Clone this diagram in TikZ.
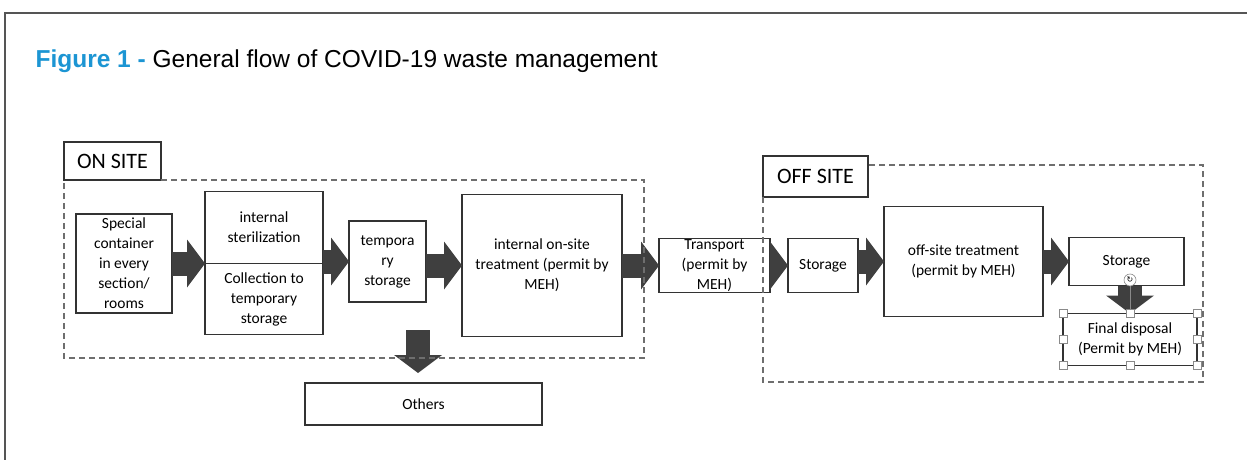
\documentclass[tikz,border=0pt]{standalone}
\usepackage{fontspec}
\setmainfont{Carlito}
\newfontfamily\titlefont{Liberation Sans}
\newfontfamily\symbfont{DejaVu Sans}
\usetikzlibrary{arrows.meta,positioning}
\definecolor{figblue}{HTML}{1C95D3}
\definecolor{boxline}{HTML}{333333}
\definecolor{arrowgray}{HTML}{3F3F3F}
\definecolor{dashgray}{HTML}{6E6E6E}
\definecolor{framegray}{HTML}{555555}
\definecolor{handlegray}{HTML}{8A8A8A}

\begin{document}
\begin{tikzpicture}[x=1pt,y=-1pt]
  \tikzstyle{box}=[rectangle,draw=boxline,line width=1.4pt,fill=white,align=center,inner sep=1pt,outer sep=0pt,font=\fontsize{15.5}{20}\selectfont]
  \tikzstyle{sitelabel}=[rectangle,draw=boxline,line width=1.2pt,fill=white,inner sep=0pt,outer sep=0pt,font=\fontsize{22}{26}\selectfont]
  \tikzstyle{flow}=[color=arrowgray,line width=24pt,-{Triangle[length=18pt 0 0,width=48pt 0 0,line width=0pt 0 0,fill=arrowgray]}]
  \tikzstyle{region}=[draw=dashgray,line width=1.2pt,dash pattern=on 6pt off 4pt]
  \tikzstyle{handle}=[rectangle,draw=handlegray,fill=white,line width=0.6pt,minimum size=8pt,inner sep=0pt]

  \useasboundingbox (0,0) rectangle (1247,460);
  \draw[framegray,line width=1.2pt] (5,460) -- (5,13) -- (1247,13);

  \node[anchor=base west,font=\titlefont\fontsize{24.5}{29}\selectfont] (title) at (32,67) {\textcolor{figblue}{\bfseries Figure 1 -} General flow of COVID-19 waste management};

  \node[sitelabel,minimum width=97pt,minimum height=38pt] (onsite) at (112.5,161) {ON SITE};
  \node[sitelabel,minimum width=105pt,minimum height=41pt] (offsite) at (815.5,176.5) {OFF SITE};

  \node[box,minimum width=96pt,minimum height=99pt] (spec) at (124,263.5) {Special\\container\\in every\\section/\\rooms};
  \node[box,minimum width=118pt,minimum height=72pt,right=33pt of spec,anchor=south west] (ster) {internal\\sterilization};
  \node[box,minimum width=118pt,minimum height=71pt,below=0pt of ster] (coll) {Collection to\\temporary\\storage};
  \node[box,minimum width=77pt,minimum height=81pt,right=26pt of ster.south east,yshift=2pt] (temp) {tempora\\ry\\storage};
  \node[box,minimum width=160pt,minimum height=142pt,right=36pt of temp,yshift=-4pt] (onsitetr) {internal on-site\\treatment (permit by\\MEH)};
  \node[box,minimum width=111pt,minimum height=54pt,right=37pt of onsitetr] (transport) {Transport\\(permit by\\MEH)};
  \node[box,minimum width=70pt,minimum height=54pt,right=18pt of transport] (store1) {Storage};
  \node[box,minimum width=159pt,minimum height=110pt,right=26pt of store1,yshift=4pt] (offsitetr) {off-site treatment\\(permit by MEH)};
  \node[box,minimum width=115pt,minimum height=48pt,right=26pt of offsitetr] (store2) {Storage};
  \node[box,minimum width=134pt,minimum height=52pt,below=28pt of store2,xshift=3.5pt] (final) {Final disposal\\(Permit by MEH)};
  \node[box,minimum width=237pt,minimum height=42pt] (others) at (423.5,404) {Others};

  \coordinate (split) at (418,330);
  \path[flow]
  (spec.east) edge (spec.east -| ster.west)
  (temp -| ster.east) edge (temp.west)
  (onsitetr -| temp.east) edge (onsitetr.west)
  (onsitetr.east) edge (transport.west)
  (transport.east) edge (store1.west)
  (offsitetr -| store1.east) edge (offsitetr.west)
  (offsitetr.east) edge (store2.west)
  (store2.south -| final.north) edge (final.north)
  (split) edge[shorten >=10pt] (split |- others.north);

  \draw[region] (onsite.south east) -- (644,180) -- (644,358) -- (64,358) -- (onsite.south west);
  \draw[region] (offsite.south west) -- (763,382) -- (1203,382) -- (1203,165) -- (offsite.east |- 0,165);

  \node[circle,draw=handlegray,fill=white,line width=0.6pt,minimum size=12pt,inner sep=0pt,font=\symbfont\fontsize{8}{8}\selectfont] (rotate) at (1130,280) {↻};
  \draw[handlegray,line width=0.6pt] (rotate) -- (final.north);
  \foreach \a in {north west,north,north east,west,east,south west,south,south east}
    \node[handle] at (final.\a) {};
\end{tikzpicture}
\end{document}
